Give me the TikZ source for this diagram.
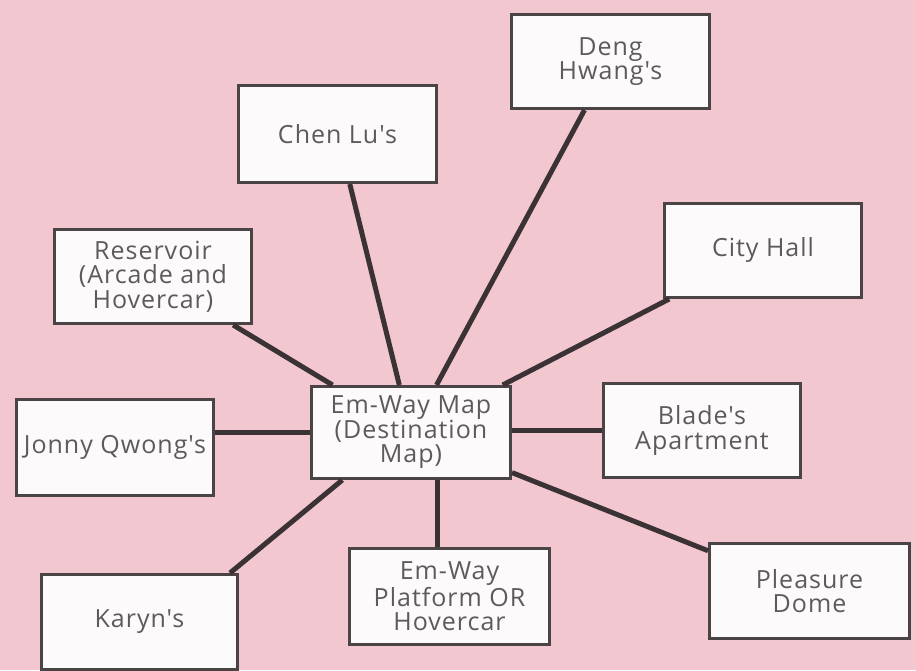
\documentclass[tikz,border=0pt]{standalone}
\usepackage{fontspec}
\usetikzlibrary{calc}
\newfontfamily\boxfont[LetterSpace=4]{Open Sans}
\definecolor{bgpink}{HTML}{F3C7CF}
\definecolor{boxfill}{HTML}{FCFAFB}
\definecolor{boxline}{HTML}{4A4446}
\definecolor{conline}{HTML}{3A3234}
\definecolor{txt}{HTML}{5C5A5B}
\begin{document}
\begin{tikzpicture}[x=1pt,y=-1pt,
  box/.style={draw=boxline, line width=3pt, fill=boxfill, align=center,
    inner sep=0pt, text=txt, font=\boxfont\fontsize{25}{24.5}\selectfont},
  con/.style={draw=conline, line width=5pt}]
\useasboundingbox (0,0) rectangle (916,670);
\fill[bgpink] (0,0) rectangle (916,670);
\begin{scope}
\clip (0,0) rectangle (916,670);
\node[box, minimum width=198pt, minimum height=94pt] (deng) at (610.5,61.5) {Deng\\Hwang's};
\node[box, minimum width=198pt, minimum height=97pt] (chen) at (337.5,134) {Chen Lu's};
\node[box, minimum width=197pt, minimum height=94pt] (res) at (153,276.5) {Reservoir\\(Arcade and\\Hovercar)};
\node[box, minimum width=197pt, minimum height=94pt] (city) at (763,250.5) {City Hall};
\node[box, minimum width=199pt, minimum height=92pt] (center) at (411,432.5) {Em-Way Map\\(Destination\\Map)};
\node[box, minimum width=197pt, minimum height=96pt] (jonny) at (115,447.5) {Jonny Qwong's};
\node[box, minimum width=197pt, minimum height=94pt] (blade) at (702,430.5) {Blade's\\Apartment};
\node[box, minimum width=196pt, minimum height=95pt] (karyn) at (139.5,622) {Karyn's};
\node[box, minimum width=200pt, minimum height=96pt] (platform) at (449.5,596.5) {Em-Way\\Platform OR\\Hovercar};
\node[box, minimum width=200pt, minimum height=95pt] (pleasure) at (809.5,591) {Pleasure\\Dome};
\end{scope}
\draw[con] (center) -- (chen);
\draw[con] (center) -- (deng);
\draw[con] (center) -- (res);
\draw[con] (center) -- (city);
\draw[con] (center.west) -- (center.west -| jonny.east);
\draw[con] (blade.west) -- (blade.west -| center.east);
\draw[con] (center) -- (pleasure);
\coordinate (kstart) at ($(center.south west)!0.16!(center.south east)$);
\coordinate (kend) at ($(karyn.north east)+(-9,0)$);
\draw[con] (kstart) -- (kend);
\coordinate (pstart) at ($(center.south west)!0.63!(center.south east)$);
\draw[con] (pstart) -- (pstart |- platform.north);
\end{tikzpicture}
\end{document}
